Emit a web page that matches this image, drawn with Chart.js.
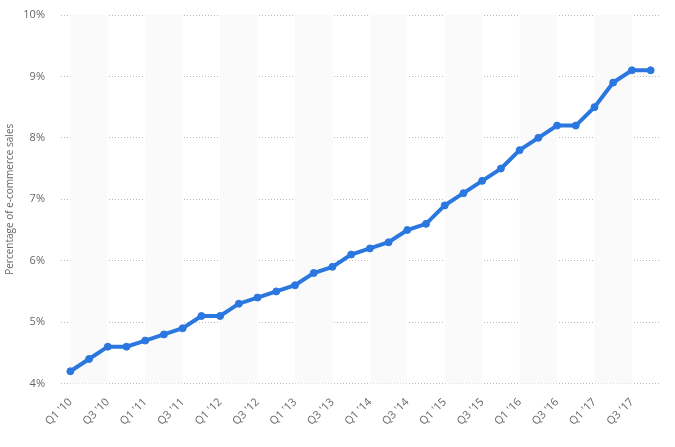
<!DOCTYPE html>
<html>
<head>
<meta charset="utf-8">
<script src="https://cdn.jsdelivr.net/npm/chart.js@4"></script>
<style>
  html, body { margin: 0; padding: 0; background: #fff; }
  #wrap { width: 675px; height: 447px; }
</style>
</head>
<body>
<div id="wrap"><canvas id="chart"></canvas></div>
<script>
// quarters Q1 '10 .. Q4 '17
const years = ['10', '11', '12', '13', '14', '15', '16', '17'];
const quarters = [];
years.forEach(y => { for (let q = 1; q <= 4; q++) quarters.push("Q" + q + " '" + y); });

const shares = [4.2, 4.4, 4.6, 4.6, 4.7, 4.8, 4.9, 5.1, 5.1, 5.3, 5.4, 5.5, 5.6, 5.8, 5.9, 6.1,
                6.2, 6.3, 6.5, 6.6, 6.9, 7.1, 7.3, 7.5, 7.8, 8.0, 8.2, 8.2, 8.5, 8.9, 9.1, 9.1];

const yTicks = [4, 5, 6, 7, 8, 9, 10];

// light grey band behind Q1..Q3 of every year
const bands = {
  id: 'bands',
  beforeDatasetsDraw(chart) {
    const { ctx, chartArea, scales } = chart;
    ctx.save();
    ctx.fillStyle = '#fafafa';
    for (let i = 0; i < quarters.length; i += 4) {
      const x1 = scales.x.getPixelForValue(i);
      const x2 = scales.x.getPixelForValue(i + 2);
      ctx.fillRect(x1, chartArea.top, x2 - x1, chartArea.bottom - chartArea.top);
    }
    ctx.restore();
  }
};

Chart.defaults.font.family = '"Open Sans", sans-serif';
Chart.defaults.color = '#666';

new Chart(document.getElementById('chart'), {
  type: 'line',
  data: {
    labels: quarters,
    datasets: [{
      data: shares,
      borderColor: '#2b77e0',
      backgroundColor: '#2b77e0',
      borderWidth: 4,
      pointRadius: 3.5,
      pointBorderWidth: 1,
      pointHoverRadius: 3.5,
      tension: 0
    }]
  },
  options: {
    responsive: true,
    maintainAspectRatio: false,
    animation: false,
    layout: { padding: { top: 0, right: 15, bottom: 15, left: 0 } },
    plugins: { legend: { display: false }, tooltip: { enabled: false } },
    scales: {
      x: {
        offset: true,
        grid: { display: false },
        border: { display: false },
        ticks: {
          autoSkip: false,
          maxRotation: 45,
          minRotation: 45,
          padding: 4,
          font: { size: 11 },
          callback: (v, i) => (i % 2 === 0 ? quarters[i] : null)
        }
      },
      y: {
        min: 4,
        max: 10,
        afterBuildTicks: axis => { axis.ticks = yTicks.map(v => ({ value: v })); },
        afterFit: axis => { axis.width = 61; axis.paddingTop = 15; },
        border: { display: false, dash: [1, 2] },
        grid: { color: '#bbb', drawTicks: false },
        ticks: { padding: 16, font: { size: 11 }, callback: v => v + '%' },
        title: { display: true, text: 'Percentage of e-commerce sales', font: { size: 10 }, padding: { bottom: 4 } }
      }
    }
  },
  plugins: [bands]
});
</script>
</body>
</html>
